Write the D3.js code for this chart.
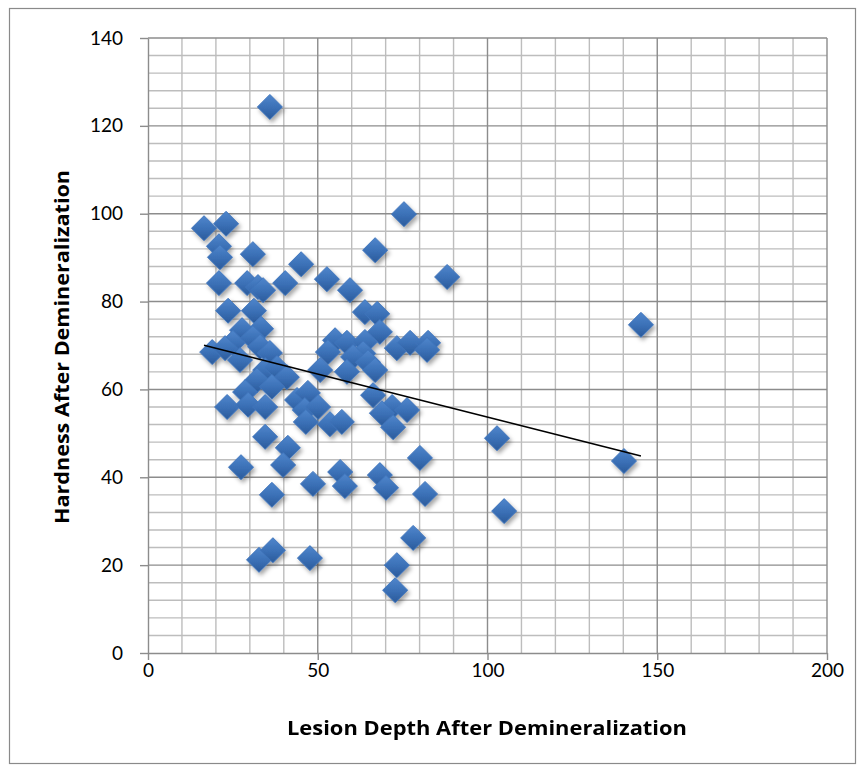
<!DOCTYPE html>
<html>
<head>
<meta charset="utf-8">
<script src="https://cdn.jsdelivr.net/npm/d3@7"></script>
<style>
  html, body { margin: 0; padding: 0; background: #fff; }
  svg { display: block; }
  .tick text { font-family: Lato, "Open Sans", sans-serif; font-size: 19px; fill: #000; }
  .axis-title { font-family: "Open Sans", Lato, sans-serif; font-size: 19px; font-weight: bold; fill: #000; }
</style>
</head>
<body>
<svg id="chart" width="865" height="773"></svg>
<script>
// Lesion depth (x) and hardness (y) after demineralization, one entry per specimen
const lesionDepth = [
  35.9, 16.5, 23.0, 75.4, 20.9, 21.2, 30.9, 66.9, 45.1, 88.1,
  20.9, 29.2, 32.4, 33.9, 40.4, 52.7, 59.5, 23.6, 31.2, 63.9,
  67.5, 27.7, 33.3, 68.3, 25.0, 30.9, 18.9, 22.7, 33.0, 35.9,
  27.1, 34.5, 38.0, 40.9, 32.1, 36.5, 28.6, 23.3, 29.5, 34.5,
  43.9, 47.1, 46.2, 46.5, 50.1, 53.6, 57.1, 55.1, 58.6, 63.9,
  63.4, 73.3, 77.2, 82.5, 82.2, 53.0, 60.4, 64.8, 66.9, 58.6,
  50.7, 66.3, 71.9, 76.3, 68.9, 72.2, 34.5, 41.2, 39.8, 27.4,
  36.5, 48.6, 56.6, 58.0, 68.3, 70.1, 80.1, 81.6, 78.1, 73.3,
  72.8, 32.7, 36.8, 47.7, 145.2, 102.8, 140.2, 104.9
];
const hardness = [
  124.3, 96.7, 97.7, 99.9, 92.6, 90.1, 90.8, 91.7, 88.5, 85.6,
  84.2, 84.2, 83.3, 82.6, 84.2, 85.1, 82.6, 77.9, 77.9, 77.6,
  77.2, 73.5, 73.8, 73.1, 70.6, 71.7, 68.5, 69.4, 69.7, 68.3,
  66.7, 64.4, 64.9, 62.8, 62.1, 60.6, 59.4, 56.0, 56.5, 56.0,
  57.6, 59.2, 55.3, 52.6, 56.0, 52.1, 52.6, 71.2, 70.6, 70.8,
  68.2, 69.4, 70.6, 70.6, 69.0, 68.5, 67.4, 66.2, 64.4, 64.0,
  64.4, 58.7, 56.0, 55.3, 54.6, 51.4, 49.2, 46.7, 42.8, 42.3,
  36.0, 38.5, 41.2, 38.0, 40.5, 37.6, 44.4, 36.2, 26.2, 20.0,
  14.3, 21.2, 23.4, 21.6, 74.7, 48.9, 43.7, 32.3
];

// Linear trend line: hardness = trendIntercept + trendSlope * depth
const trendSlope = -0.196;
const trendIntercept = 73.3;

const xTicks = [0, 50, 100, 150, 200];
const yTicks = [0, 20, 40, 60, 80, 100, 120, 140];
const xTitle = "Lesion Depth After Demineralization";
const yTitle = "Hardness After Demineralization";

const points = lesionDepth.map((d, i) => ({ x: d, y: hardness[i] }));

const svg = d3.select("#chart");
const W = 865, H = 773;
const plot = { left: 148, right: 827, top: 38, bottom: 653 };

// outer chart border
svg.append("rect")
  .attr("x", 9.5).attr("y", 8.5)
  .attr("width", W - 19).attr("height", H - 18)
  .attr("fill", "#fff").attr("stroke", "#8a8a8a").attr("stroke-width", 1.2);

const x = d3.scaleLinear().domain([0, 200]).range([plot.left, plot.right]);
const y = d3.scaleLinear().domain([0, 140]).range([plot.bottom, plot.top]);

const defs = svg.append("defs");
const grad = defs.append("linearGradient")
  .attr("id", "diamondFill").attr("x1", 0).attr("y1", 0).attr("x2", 0).attr("y2", 1);
grad.append("stop").attr("offset", "0%").attr("stop-color", "#4f86cc");
grad.append("stop").attr("offset", "55%").attr("stop-color", "#3a6fb5");
grad.append("stop").attr("offset", "100%").attr("stop-color", "#2a5a9a");

const shadow = defs.append("filter").attr("id", "shadow")
  .attr("x", "-50%").attr("y", "-50%").attr("width", "200%").attr("height", "200%");
shadow.append("feDropShadow")
  .attr("dx", 2).attr("dy", 3).attr("stdDeviation", 2)
  .attr("flood-color", "#000").attr("flood-opacity", 0.35);

// minor grid: every 10 units on x, every 4 units on y
const grid = svg.append("g");
grid.selectAll("line.vminor")
  .data(d3.range(0, 201, 10).filter(v => v % 50 !== 0))
  .join("line")
  .attr("x1", d => x(d)).attr("x2", d => x(d))
  .attr("y1", plot.top).attr("y2", plot.bottom)
  .attr("stroke", "#bdbdbd").attr("stroke-width", 1.4);
grid.selectAll("line.hminor")
  .data(d3.range(0, 141, 4).filter(v => v % 20 !== 0))
  .join("line")
  .attr("x1", plot.left).attr("x2", plot.right)
  .attr("y1", d => y(d)).attr("y2", d => y(d))
  .attr("stroke", "#bdbdbd").attr("stroke-width", 1.4);
// major grid at labelled ticks
grid.selectAll("line.vmajor")
  .data(xTicks.slice(1))
  .join("line")
  .attr("x1", d => x(d)).attr("x2", d => x(d))
  .attr("y1", plot.top).attr("y2", plot.bottom)
  .attr("stroke", "#8c8c8c").attr("stroke-width", 1.4);
grid.selectAll("line.hmajor")
  .data(yTicks.slice(1))
  .join("line")
  .attr("x1", plot.left).attr("x2", plot.right)
  .attr("y1", d => y(d)).attr("y2", d => y(d))
  .attr("stroke", "#8c8c8c").attr("stroke-width", 1.4);

// axes
const yAxis = svg.append("g")
  .attr("transform", `translate(${plot.left},0)`)
  .call(d3.axisLeft(y).tickValues(yTicks).tickSize(8).tickPadding(17).tickSizeOuter(0));
const xAxis = svg.append("g")
  .attr("transform", `translate(0,${plot.bottom})`)
  .call(d3.axisBottom(x).tickValues(xTicks).tickSize(7).tickPadding(4).tickSizeOuter(0));
[yAxis, xAxis].forEach(a => {
  a.select(".domain").attr("stroke", "#8c8c8c").attr("stroke-width", 1.4);
  a.selectAll(".tick line").attr("stroke", "#8c8c8c").attr("stroke-width", 1.4);
});

// diamond markers
const r = 12.5;
const diamond = `M0,${-r}L${r},0L0,${r}L${-r},0Z`;
svg.append("g").attr("filter", "url(#shadow)")
  .selectAll("path")
  .data(points)
  .join("path")
  .attr("d", diamond)
  .attr("transform", d => `translate(${x(d.x)},${y(d.y)})`)
  .attr("fill", "url(#diamondFill)")
  .attr("stroke", "#3f74bb").attr("stroke-width", 1);

// trend line across the data range
const [xMin, xMax] = d3.extent(lesionDepth);
svg.append("line")
  .attr("x1", x(xMin)).attr("y1", y(trendIntercept + trendSlope * xMin))
  .attr("x2", x(xMax)).attr("y2", y(trendIntercept + trendSlope * xMax))
  .attr("stroke", "#000").attr("stroke-width", 1.6);

// axis titles
svg.append("text").attr("class", "axis-title")
  .attr("x", 487).attr("y", 735)
  .attr("text-anchor", "middle")
  .attr("textLength", 400).attr("lengthAdjust", "spacingAndGlyphs")
  .text(xTitle);
svg.append("text").attr("class", "axis-title")
  .attr("transform", `translate(69,347) rotate(-90)`)
  .attr("text-anchor", "middle")
  .attr("textLength", 354).attr("lengthAdjust", "spacingAndGlyphs")
  .text(yTitle);
</script>
</body>
</html>
